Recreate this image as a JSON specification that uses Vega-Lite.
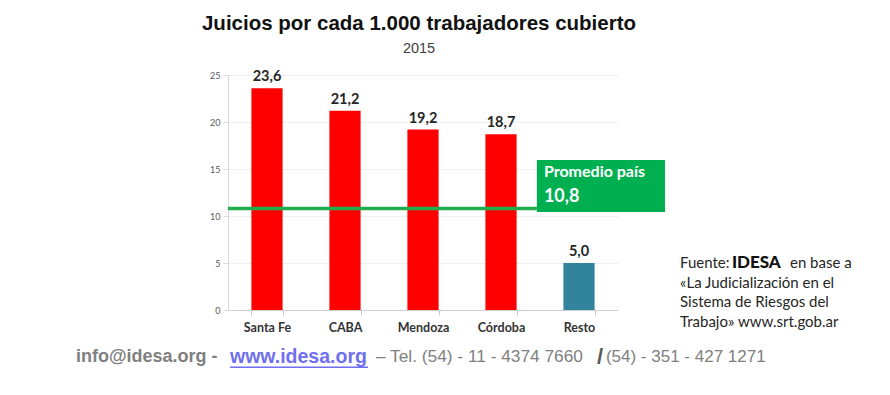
{
  "$schema": "https://vega.github.io/schema/vega-lite/v6.json",
  "width": 390,
  "height": 235,
  "autosize": {"type": "none"},
  "padding": {"left": 228, "top": 75, "right": 272, "bottom": 85},
  "background": "white",
  "config": {
    "view": {"stroke": null},
    "locale": {"number": {"decimal": ",", "thousands": ".", "grouping": [3], "currency": ["$", ""]}}
  },
  "title": {
    "text": "Juicios por cada 1.000 trabajadores cubierto",
    "subtitle": "2015",
    "frame": "group",
    "anchor": "middle",
    "dx": -4,
    "offset": 14,
    "font": "Liberation Sans",
    "fontSize": 20.5,
    "fontWeight": "bold",
    "color": "#111111",
    "subtitleFont": "Liberation Sans",
    "subtitleFontSize": 14.5,
    "subtitleColor": "#404040",
    "subtitlePadding": 7
  },
  "data": {
    "values": [
      {"provincia": "Santa Fe", "valor": 23.6},
      {"provincia": "CABA", "valor": 21.2},
      {"provincia": "Mendoza", "valor": 19.2},
      {"provincia": "Córdoba", "valor": 18.7},
      {"provincia": "Resto", "valor": 5.0}
    ]
  },
  "layer": [
    {
      "mark": {"type": "bar"},
      "encoding": {
        "x": {
          "field": "provincia", "type": "nominal", "sort": null,
          "scale": {"paddingInner": 0.6, "paddingOuter": 0.3},
          "axis": {
            "title": null, "labelAngle": 0, "labelFont": "Lato", "labelFontSize": 12.5,
            "labelFontWeight": "bold", "labelColor": "#333333", "labelPadding": 6,
            "domainColor": "#D0D0D0", "tickColor": "#C8C8C8", "tickBand": "extent", "tickSize": 5
          }
        },
        "y": {
          "field": "valor", "type": "quantitative",
          "scale": {"domain": [0, 25], "nice": false},
          "axis": {
            "values": [0, 5, 10, 15, 20, 25], "title": null,
            "domainColor": "#D9D9D9", "tickColor": "#D9D9D9", "tickSize": 5,
            "labelPadding": 3, "labelFont": "Lato", "labelFontSize": 9,
            "labelColor": "#595959", "gridColor": "#F0F0F0"
          }
        },
        "color": {
          "field": "provincia", "type": "nominal",
          "scale": {"domain": ["Santa Fe", "CABA", "Mendoza", "Córdoba", "Resto"],
                    "range": ["#FF0000", "#FF0000", "#FF0000", "#FF0000", "#31849B"]},
          "legend": null
        }
      }
    },
    {
      "mark": {"type": "text", "dy": -7, "baseline": "alphabetic", "font": "Lato", "fontSize": 14.5, "fontWeight": "bold", "color": "#262626"},
      "encoding": {
        "x": {"field": "provincia", "type": "nominal", "sort": null, "scale": {"paddingInner": 0.6, "paddingOuter": 0.3}, "axis": null},
        "y": {"field": "valor", "type": "quantitative", "scale": {"domain": [0, 25], "nice": false}, "axis": null},
        "text": {"field": "valor", "type": "quantitative", "format": ".1f"}
      }
    },
    {
      "data": {"values": [{}]},
      "mark": {"type": "rule", "color": "#1FAE4B", "strokeWidth": 3.5},
      "encoding": {
        "x": {"datum": 0, "type": "quantitative", "scale": {"domain": [0, 1]}, "axis": null},
        "x2": {"datum": 0.792},
        "y": {"datum": 10.8, "type": "quantitative", "scale": {"domain": [0, 25], "nice": false}, "axis": null}
      }
    },
    {
      "data": {"values": [{}]},
      "mark": {"type": "rect", "color": "#00B050"},
      "encoding": {
        "x": {"datum": 0.792, "type": "quantitative", "scale": {"domain": [0, 1]}, "axis": null},
        "x2": {"datum": 1.1205},
        "y": {"datum": 15.96, "type": "quantitative", "scale": {"domain": [0, 25], "nice": false}, "axis": null},
        "y2": {"datum": 10.43}
      }
    },
    {
      "data": {"values": [{}]},
      "mark": {"type": "text", "text": "Promedio país", "align": "left", "baseline": "middle", "font": "Lato", "fontSize": 16, "fontWeight": "bold", "color": "white"},
      "encoding": {
        "x": {"datum": 0.81, "type": "quantitative", "scale": {"domain": [0, 1]}, "axis": null},
        "y": {"datum": 14.68, "type": "quantitative", "scale": {"domain": [0, 25], "nice": false}, "axis": null}
      }
    },
    {
      "data": {"values": [{}]},
      "mark": {"type": "text", "text": "10,8", "align": "left", "baseline": "middle", "font": "Lato", "fontSize": 18, "fontWeight": "bold", "color": "white"},
      "encoding": {
        "x": {"datum": 0.81, "type": "quantitative", "scale": {"domain": [0, 1]}, "axis": null},
        "y": {"datum": 12.02, "type": "quantitative", "scale": {"domain": [0, 25], "nice": false}, "axis": null}
      }
    },
    {
      "data": {"values": [{}]},
      "mark": {"type": "text", "text": "Fuente:", "align": "left", "baseline": "alphabetic", "font": "Lato", "fontSize": 15, "color": "#262626"},
      "encoding": {
        "x": {"datum": 1.159, "type": "quantitative", "scale": {"domain": [0, 1]}, "axis": null},
        "y": {"datum": 4.52, "type": "quantitative", "scale": {"domain": [0, 25], "nice": false}, "axis": null}
      }
    },
    {
      "data": {"values": [{}]},
      "mark": {"type": "text", "text": "IDESA", "align": "left", "baseline": "alphabetic", "font": "Lato", "fontSize": 17, "fontWeight": 900, "color": "#111111"},
      "encoding": {
        "x": {"datum": 1.292, "type": "quantitative", "scale": {"domain": [0, 1]}, "axis": null},
        "y": {"datum": 4.52, "type": "quantitative", "scale": {"domain": [0, 25], "nice": false}, "axis": null}
      }
    },
    {
      "data": {"values": [{}]},
      "mark": {"type": "text", "text": "en base a", "align": "left", "baseline": "alphabetic", "font": "Lato", "fontSize": 15, "color": "#262626"},
      "encoding": {
        "x": {"datum": 1.441, "type": "quantitative", "scale": {"domain": [0, 1]}, "axis": null},
        "y": {"datum": 4.52, "type": "quantitative", "scale": {"domain": [0, 25], "nice": false}, "axis": null}
      }
    },
    {
      "data": {"values": [{}]},
      "mark": {"type": "text", "text": "«La Judicialización en el\nSistema de Riesgos del\nTrabajo» www.srt.gob.ar", "lineBreak": "\n", "lineHeight": 19.5, "align": "left", "baseline": "alphabetic", "font": "Lato", "fontSize": 15, "color": "#262626"},
      "encoding": {
        "x": {"datum": 1.159, "type": "quantitative", "scale": {"domain": [0, 1]}, "axis": null},
        "y": {"datum": 2.39, "type": "quantitative", "scale": {"domain": [0, 25], "nice": false}, "axis": null}
      }
    },
    {
      "data": {"values": [{}]},
      "mark": {"type": "text", "text": "info@idesa.org -", "align": "left", "baseline": "middle", "font": "Liberation Sans", "fontSize": 18, "fontWeight": "bold", "color": "#808080"},
      "encoding": {
        "x": {"datum": -0.3897, "type": "quantitative", "scale": {"domain": [0, 1]}, "axis": null},
        "y": {"datum": -5.0, "type": "quantitative", "scale": {"domain": [0, 25], "nice": false}, "axis": null}
      }
    },
    {
      "data": {"values": [{}]},
      "mark": {"type": "text", "text": "www.idesa.org", "align": "left", "baseline": "middle", "font": "Liberation Sans", "fontSize": 19.5, "fontWeight": "bold", "color": "#6F6FEF"},
      "encoding": {
        "x": {"datum": 0.0051, "type": "quantitative", "scale": {"domain": [0, 1]}, "axis": null},
        "y": {"datum": -5.0, "type": "quantitative", "scale": {"domain": [0, 25], "nice": false}, "axis": null}
      }
    },
    {
      "data": {"values": [{}]},
      "mark": {"type": "rule", "color": "#6F6FEF", "strokeWidth": 1.5},
      "encoding": {
        "x": {"datum": 0.0051, "type": "quantitative", "scale": {"domain": [0, 1]}, "axis": null},
        "x2": {"datum": 0.359},
        "y": {"datum": -6.1, "type": "quantitative", "scale": {"domain": [0, 25], "nice": false}, "axis": null}
      }
    },
    {
      "data": {"values": [{}]},
      "mark": {"type": "text", "text": "– Tel. (54) - 11 - 4374 7660", "align": "left", "baseline": "middle", "font": "Liberation Sans", "fontSize": 17.3, "color": "#808080"},
      "encoding": {
        "x": {"datum": 0.3795, "type": "quantitative", "scale": {"domain": [0, 1]}, "axis": null},
        "y": {"datum": -5.0, "type": "quantitative", "scale": {"domain": [0, 25], "nice": false}, "axis": null}
      }
    },
    {
      "data": {"values": [{}]},
      "mark": {"type": "text", "text": "/", "align": "left", "baseline": "middle", "font": "Liberation Sans", "fontSize": 22, "fontWeight": "bold", "color": "#595959"},
      "encoding": {
        "x": {"datum": 0.946, "type": "quantitative", "scale": {"domain": [0, 1]}, "axis": null},
        "y": {"datum": -5.0, "type": "quantitative", "scale": {"domain": [0, 25], "nice": false}, "axis": null}
      }
    },
    {
      "data": {"values": [{}]},
      "mark": {"type": "text", "text": "(54) - 351 - 427 1271", "align": "left", "baseline": "middle", "font": "Liberation Sans", "fontSize": 17, "color": "#808080"},
      "encoding": {
        "x": {"datum": 0.969, "type": "quantitative", "scale": {"domain": [0, 1]}, "axis": null},
        "y": {"datum": -5.0, "type": "quantitative", "scale": {"domain": [0, 25], "nice": false}, "axis": null}
      }
    }
  ],
  "resolve": {"scale": {"x": "independent", "y": "independent"}}
}
